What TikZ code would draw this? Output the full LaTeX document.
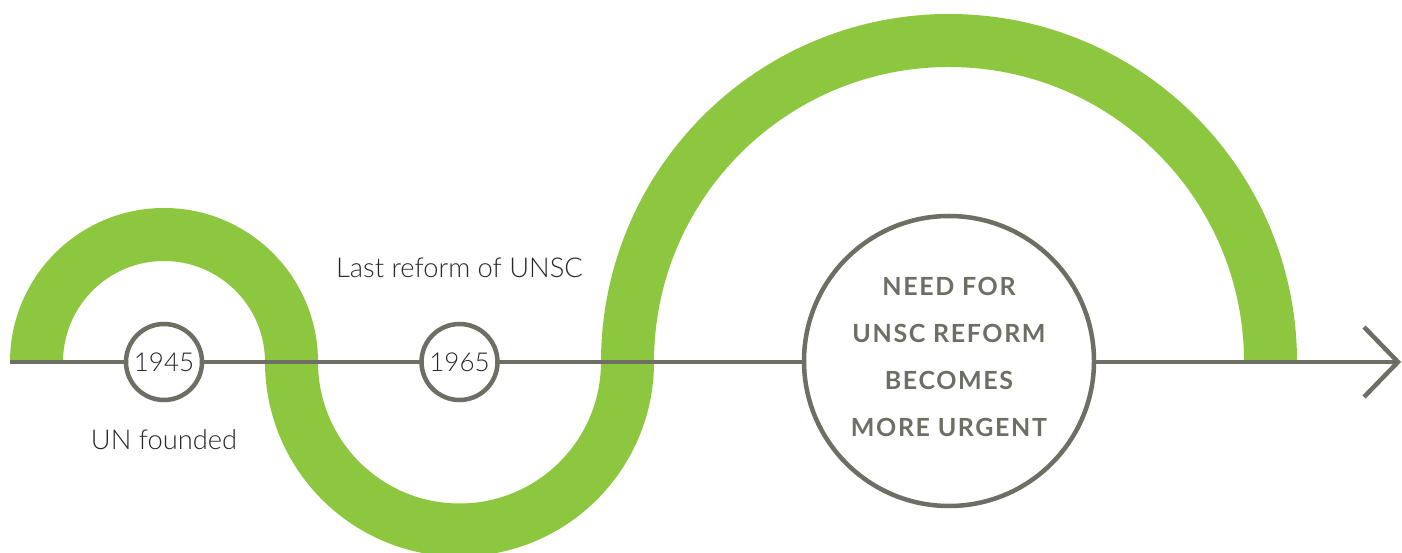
\documentclass[tikz,border=0pt]{standalone}
\usepackage{fontspec}
\setmainfont{Lato}
\newfontfamily\lightfont{Lato Light}
\newfontfamily\capsfont[LetterSpace=6.5]{Lato}
\definecolor{bandgreen}{RGB}{141,198,63}
\definecolor{linegray}{RGB}{110,110,100}
\definecolor{textgray}{RGB}{40,40,40}
\tikzset{
  band/.style={draw=bandgreen, line width=53pt, line cap=butt},
  timeline/.style={draw=linegray, line width=4.5pt},
  yearcircle/.style={circle, draw=linegray, line width=4.5pt, fill=white, minimum size=76pt, inner sep=0pt,
    font=\lightfont\fontsize{26}{30}\selectfont, text=textgray},
  bigcircle/.style={circle, draw=linegray, line width=4.5pt, fill=white, minimum size=290pt, inner sep=0pt},
  label/.style={font=\lightfont\fontsize{27.3}{32}\selectfont, text=textgray, inner sep=0pt},
  capstext/.style={font=\capsfont\bfseries\fontsize{25}{47.3}\selectfont, text=linegray, align=center, inner sep=0pt}
}
\begin{document}
\begin{tikzpicture}[x=1pt,y=1pt]
\useasboundingbox (0,-191) rectangle (1402,362);
\fill[white] (0,-191) rectangle (1402,362);
% green band
\draw[band] (36.5,0) arc[start angle=180, end angle=0, radius=127.5]
  arc[start angle=180, end angle=360, radius=168]
  arc[start angle=180, end angle=0, radius=321.5];
% timeline
\coordinate (start) at (10,0);
\coordinate (tip) at (1398,0);
\coordinate (barbup) at (1364,35);
\coordinate (barbdown) at (1364,-35);
\draw[timeline] (start) -- (tip);
\draw[timeline, line join=miter] (barbup) -- (tip) -- (barbdown);
% circles
\node[yearcircle] (c1945) at (164,0) {1945};
\node[yearcircle] (c1965) at (459.5,0) {1965};
\node[bigcircle] (need) at (949,1) {};
\node[capstext] (needtext) at (949,5) {NEED FOR\\UNSC REFORM\\BECOMES\\MORE URGENT};
% labels
\node[label] (lastreform) at (459.5,94) {Last reform of UNSC};
\node[label] (unfounded) at (164,-78) {UN founded};
\end{tikzpicture}
\end{document}
